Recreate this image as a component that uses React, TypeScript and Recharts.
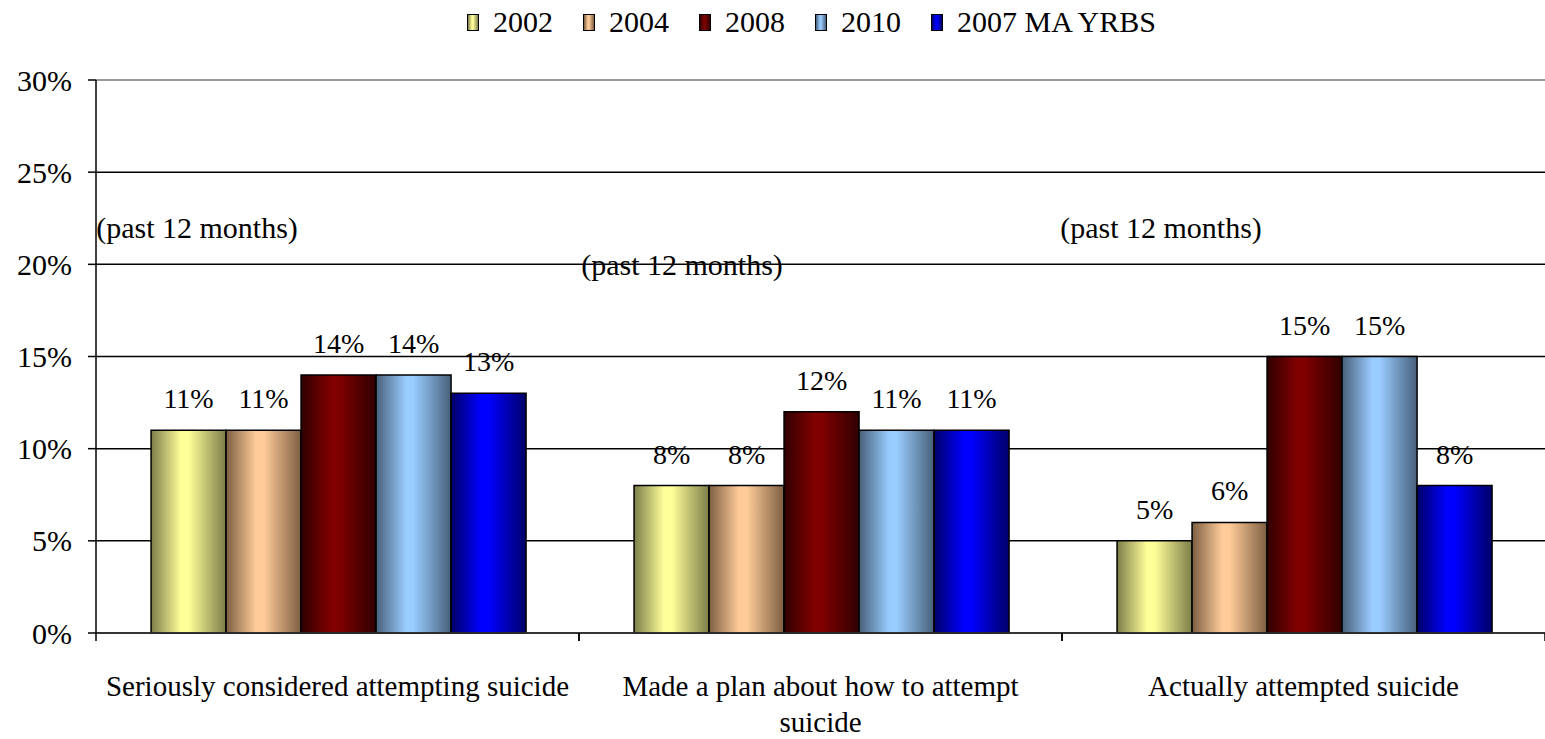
import React from 'react'
import {
  BarChart,
  Bar,
  XAxis,
  YAxis,
  CartesianGrid,
  ReferenceLine,
  LabelList
} from 'recharts'

const categories = [
  'Seriously considered attempting suicide',
  'Made a plan about how to attempt\nsuicide',
  'Actually attempted suicide'
]

const seriesNames = ['2002', '2004', '2008', '2010', '2007 MA YRBS']

const values2002 = [11, 8, 5]
const values2004 = [11, 8, 6]
const values2008 = [14, 12, 15]
const values2010 = [14, 11, 15]
const valuesMA = [13, 11, 8]

const yTicks = [0, 5, 10, 15, 20, 25, 30]

const notes = ['(past 12 months)', '(past 12 months)', '(past 12 months)']

const seriesValues = [values2002, values2004, values2008, values2010, valuesMA]

// bright centre / dark edge for the shaded bars
const shades = [
  { bright: '#ffff99', dark: '#7d7d4a' },
  { bright: '#ffcc99', dark: '#7d5e42' },
  { bright: '#800000', dark: '#300000' },
  { bright: '#99ccff', dark: '#47607a' },
  { bright: '#0000ff', dark: '#000068' }
]

const data = categories.map((name, i) => {
  const row: Record<string, string | number> = { name }
  seriesNames.forEach((s, j) => {
    row[s] = seriesValues[j][i]
  })
  return row
})

const FONT = '"Liberation Serif", Tinos, "Times New Roman", Times, "Noto Serif", "DejaVu Serif", serif'
const WIDTH = 1545
const HEIGHT = 739
const PLOT_LEFT = 96
const PLOT_TOP = 80
const PLOT_BOTTOM = 106
const band = (WIDTH - PLOT_LEFT) / categories.length

const CategoryTick = (props: any) => {
  const { x, y, payload } = props
  const lines = String(payload.value).split('\n')
  return (
    <g>
      <line x1={x - band / 2} x2={x - band / 2} y1={y} y2={y + 8} stroke="#000" strokeWidth={1.5} />
      <line x1={x + band / 2} x2={x + band / 2} y1={y} y2={y + 8} stroke="#000" strokeWidth={1.5} />
      {lines.map((line: string, i: number) => (
        <text
          key={i}
          x={x}
          y={y + 63 + i * 36}
          textAnchor="middle"
          style={{ fontFamily: FONT, fontSize: 29 }}
          fill="#000"
        >
          {line}
        </text>
      ))}
    </g>
  )
}

const legendSwatch = (i: number) =>
  `linear-gradient(to right, ${shades[i].dark} 0%, ${shades[i].bright} 40%, ${shades[i].bright} 50%, ${shades[i].dark} 100%)`

export default function App() {
  return (
    <div style={{ position: 'absolute', left: 0, top: 0, width: WIDTH, height: HEIGHT, background: '#fff' }}>
      {/* legend */}
      <div
        style={{
          position: 'absolute',
          top: 4,
          left: 467,
          display: 'flex',
          fontFamily: FONT,
          fontSize: 30,
          lineHeight: '36px',
          color: '#000'
        }}
      >
        {seriesNames.map((s, i) => (
          <div
            key={s}
            style={{ display: 'flex', alignItems: 'center', width: i < seriesNames.length - 1 ? 116 : 'auto' }}
          >
            <span
              style={{
                display: 'inline-block',
                boxSizing: 'border-box',
                width: 12,
                height: 17,
                border: '1.5px solid #000',
                background: legendSwatch(i),
                marginRight: 14
              }}
            />
            <span style={{ whiteSpace: 'nowrap' }}>{s}</span>
          </div>
        ))}
      </div>

      <BarChart
        width={WIDTH}
        height={HEIGHT}
        data={data}
        margin={{ top: PLOT_TOP, right: 0, left: 0, bottom: 0 }}
        barCategoryGap="11.4%"
        barGap={0}
      >
        <defs>
          {shades.map((c, i) => (
            <linearGradient key={i} id={`shade${i}`} x1="0" y1="0" x2="1" y2="0">
              <stop offset="0%" stopColor={c.dark} />
              <stop offset="40%" stopColor={c.bright} />
              <stop offset="50%" stopColor={c.bright} />
              <stop offset="100%" stopColor={c.dark} />
            </linearGradient>
          ))}
        </defs>
        <CartesianGrid stroke="#000" strokeWidth={1.5} vertical={false} />
        <ReferenceLine y={30} stroke="#b8b8b8" strokeWidth={1.5} />
        <XAxis
          dataKey="name"
          height={PLOT_BOTTOM}
          axisLine={{ stroke: '#333', strokeWidth: 1.5 }}
          tickLine={false}
          tickSize={0}
          tickMargin={0}
          interval={0}
          tick={<CategoryTick />}
        />
        <YAxis
          width={PLOT_LEFT}
          domain={[0, 30]}
          ticks={yTicks}
          interval={0}
          tickFormatter={(v) => `${v}%`}
          axisLine={{ stroke: '#000', strokeWidth: 1.5 }}
          tickLine={{ stroke: '#000', strokeWidth: 1.5 }}
          tickSize={8}
          tickMargin={16}
          tick={{ fill: '#000', style: { fontFamily: FONT, fontSize: 30 } }}
        />
        {seriesNames.map((s, i) => (
          <Bar
            key={s}
            dataKey={s}
            fill={`url(#shade${i})`}
            stroke="#000"
            strokeWidth={1.5}
            isAnimationActive={false}
          >
            <LabelList
              dataKey={s}
              position="top"
              offset={22}
              formatter={(v: any) => `${v}%`}
              fill="#000"
              style={{ fontFamily: FONT, fontSize: 28 }}
            />
          </Bar>
        ))}
      </BarChart>

      {/* stray "(past 12 months)" boxes from the source chart */}
      {notes.map((n, i) => (
        <div
          key={i}
          style={{
            position: 'absolute',
            left: [197, 682, 1161][i],
            top: [210, 247, 210][i],
            transform: 'translateX(-50%)',
            fontFamily: FONT,
            fontSize: 30,
            lineHeight: '36px',
            color: '#000',
            whiteSpace: 'nowrap'
          }}
        >
          {n}
        </div>
      ))}
    </div>
  )
}
